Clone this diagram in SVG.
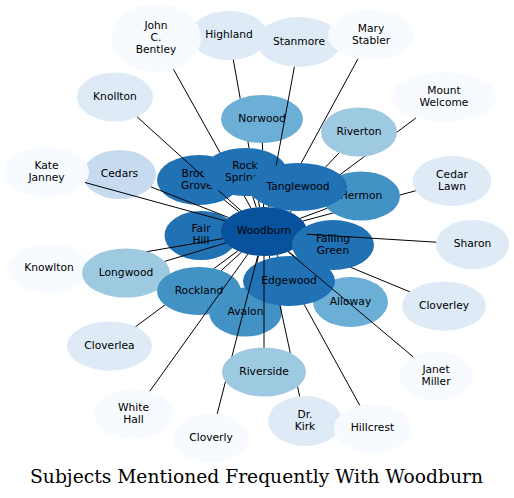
<svg xmlns="http://www.w3.org/2000/svg" width="514" height="498" viewBox="0 0 514 498">
<style>
text { font-family: "DejaVu Sans", "Liberation Sans", sans-serif; font-size: 10.7px; text-anchor: middle; fill: #000; }
.title { font-family: "DejaVu Serif", "Liberation Serif", serif; font-size: 18.7px; }
.c1 { fill: #f7fbff; } .c2 { fill: #deebf7; } .c3 { fill: #c6dbef; } .c4 { fill: #9ecae1; }
.c5 { fill: #6baed6; } .c6 { fill: #4292c6; } .c7 { fill: #2171b5; } .c8 { fill: #08519c; }
#edges line { stroke: #000; stroke-width: 1; fill: none; }
</style>
<defs>
<ellipse id="e-highland" cx="229" cy="35.5" rx="39" ry="24.5"/>
<ellipse id="e-jcb" cx="156" cy="38" rx="45" ry="34"/>
<ellipse id="e-brookgrove" cx="199" cy="180" rx="42" ry="25"/>
<ellipse id="e-knollton" cx="115" cy="97" rx="38" ry="24.5"/>
<ellipse id="e-norwood" cx="262" cy="119" rx="41" ry="24"/>
<ellipse id="e-rocksprings" cx="245" cy="172" rx="42" ry="24"/>
<ellipse id="e-stanmore" cx="299" cy="42" rx="42" ry="25"/>
<ellipse id="e-marystabler" cx="371" cy="35" rx="43" ry="25"/>
<ellipse id="e-cedarlawn" cx="452" cy="181" rx="39.5" ry="25"/>
<ellipse id="e-hermon" cx="361" cy="196" rx="39" ry="24.5"/>
<ellipse id="e-mountwelcome" cx="444" cy="97" rx="52" ry="25"/>
<ellipse id="e-riverton" cx="359" cy="132" rx="38" ry="24.5"/>
<ellipse id="e-tanglewood" cx="298" cy="187" rx="49" ry="24"/>
<ellipse id="e-fairhill" cx="201" cy="235.5" rx="36.5" ry="24.5"/>
<ellipse id="e-cedars" cx="119.5" cy="174.5" rx="36.5" ry="24.5"/>
<ellipse id="e-katejanney" cx="46.5" cy="172" rx="42.5" ry="25"/>
<ellipse id="e-woodburn" cx="264" cy="231.5" rx="43" ry="24.5"/>
<ellipse id="e-cloverley" cx="444" cy="306" rx="42" ry="24.5"/>
<ellipse id="e-fallinggreen" cx="333" cy="245" rx="41" ry="25"/>
<ellipse id="e-sharon" cx="472.5" cy="244.5" rx="36.5" ry="24.5"/>
<ellipse id="e-knowlton" cx="49" cy="268.5" rx="41" ry="24.5"/>
<ellipse id="e-longwood" cx="126" cy="273" rx="44" ry="24.5"/>
<ellipse id="e-cloverlea" cx="109.5" cy="346" rx="42.5" ry="24.5"/>
<ellipse id="e-rockland" cx="199" cy="291" rx="42" ry="24"/>
<ellipse id="e-avalon" cx="245.5" cy="312" rx="36.5" ry="24.5"/>
<ellipse id="e-whitehall" cx="133.5" cy="414" rx="39.5" ry="25"/>
<ellipse id="e-cloverly" cx="211" cy="438" rx="37.5" ry="24.5"/>
<ellipse id="e-alloway" cx="350.5" cy="302" rx="37.5" ry="25"/>
<ellipse id="e-drkirk" cx="305" cy="421" rx="37" ry="25"/>
<ellipse id="e-hillcrest" cx="372.5" cy="428.5" rx="38.5" ry="24.5"/>
<ellipse id="e-edgewood" cx="289" cy="281" rx="46" ry="25"/>
<ellipse id="e-janetmiller" cx="436" cy="376" rx="37" ry="24.5"/>
<ellipse id="e-riverside" cx="264" cy="372" rx="42" ry="24.5"/>

<mask id="m-highland" maskUnits="userSpaceOnUse" x="0" y="0" width="514" height="498"><rect width="514" height="498" fill="#fff"/><use href="#e-norwood"/><use href="#e-rocksprings"/><use href="#e-tanglewood"/></mask>
<mask id="m-jcb" maskUnits="userSpaceOnUse" x="0" y="0" width="514" height="498"><rect width="514" height="498" fill="#fff"/><use href="#e-brookgrove"/><use href="#e-rocksprings"/><use href="#e-tanglewood"/></mask>
<mask id="m-rs" maskUnits="userSpaceOnUse" x="0" y="0" width="514" height="498"><rect width="514" height="498" fill="#fff"/><use href="#e-rocksprings"/></mask>
<mask id="m-rs-tw" maskUnits="userSpaceOnUse" x="0" y="0" width="514" height="498"><rect width="514" height="498" fill="#fff"/><use href="#e-rocksprings"/><use href="#e-tanglewood"/></mask>
<mask id="m-tw" maskUnits="userSpaceOnUse" x="0" y="0" width="514" height="498"><rect width="514" height="498" fill="#fff"/><use href="#e-tanglewood"/></mask>
<mask id="m-rt-tw" maskUnits="userSpaceOnUse" x="0" y="0" width="514" height="498"><rect width="514" height="498" fill="#fff"/><use href="#e-riverton"/><use href="#e-tanglewood"/></mask>
<mask id="m-cedarlawn" maskUnits="userSpaceOnUse" x="0" y="0" width="514" height="498"><rect width="514" height="498" fill="#fff"/><use href="#e-hermon"/><use href="#e-tanglewood"/><use href="#e-fallinggreen"/></mask>
<mask id="m-tw-fg" maskUnits="userSpaceOnUse" x="0" y="0" width="514" height="498"><rect width="514" height="498" fill="#fff"/><use href="#e-tanglewood"/><use href="#e-fallinggreen"/></mask>
<mask id="m-fg" maskUnits="userSpaceOnUse" x="0" y="0" width="514" height="498"><rect width="514" height="498" fill="#fff"/><use href="#e-fallinggreen"/></mask>
<mask id="m-lw" maskUnits="userSpaceOnUse" x="0" y="0" width="514" height="498"><rect width="514" height="498" fill="#fff"/><use href="#e-longwood"/></mask>
<mask id="m-rl" maskUnits="userSpaceOnUse" x="0" y="0" width="514" height="498"><rect width="514" height="498" fill="#fff"/><use href="#e-rockland"/></mask>
<mask id="m-ew" maskUnits="userSpaceOnUse" x="0" y="0" width="514" height="498"><rect width="514" height="498" fill="#fff"/><use href="#e-edgewood"/></mask>
<mask id="m-rv" maskUnits="userSpaceOnUse" x="0" y="0" width="514" height="498"><rect width="514" height="498" fill="#fff"/><use href="#e-riverside"/></mask>
<mask id="m-ew-rv" maskUnits="userSpaceOnUse" x="0" y="0" width="514" height="498"><rect width="514" height="498" fill="#fff"/><use href="#e-edgewood"/><use href="#e-riverside"/></mask>
</defs>

<rect width="514" height="498" fill="#fff"/>

<g id="nodes">
<g id="node-highland"><use href="#e-highland" class="c2"/><text x="229" y="38.3">Highland</text></g>
<g id="node-john-c-bentley"><use href="#e-jcb" class="c1"/><text x="156" y="28.8">John</text><text x="156" y="40.8">C.</text><text x="156" y="52.8">Bentley</text></g>
<g id="node-brook-grove"><use href="#e-brookgrove" class="c7"/><text x="197" y="176.8">Brook</text><text x="197" y="188.8">Grove</text></g>
<g id="node-knollton"><use href="#e-knollton" class="c2"/><text x="115" y="99.8">Knollton</text></g>
<g id="node-norwood"><use href="#e-norwood" class="c5"/><text x="262" y="121.8">Norwood</text></g>
<g id="node-rock-springs"><use href="#e-rocksprings" class="c7"/><text x="245" y="168.8">Rock</text><text x="245" y="180.8">Springs</text></g>
<g id="node-stanmore"><use href="#e-stanmore" class="c2"/><text x="299" y="44.8">Stanmore</text></g>
<g id="node-mary-stabler"><use href="#e-marystabler" class="c1"/><text x="371" y="31.8">Mary</text><text x="371" y="43.8">Stabler</text></g>
<g id="node-cedar-lawn"><use href="#e-cedarlawn" class="c2"/><text x="452" y="177.8">Cedar</text><text x="452" y="189.8">Lawn</text></g>
<g id="node-hermon"><use href="#e-hermon" class="c6"/><text x="361" y="198.8">Hermon</text></g>
<g id="node-mount-welcome"><use href="#e-mountwelcome" class="c1"/><text x="444" y="93.8">Mount</text><text x="444" y="105.8">Welcome</text></g>
<g id="node-riverton"><use href="#e-riverton" class="c4"/><text x="359" y="134.8">Riverton</text></g>
<g id="node-tanglewood"><use href="#e-tanglewood" class="c7"/><text x="298" y="189.8">Tanglewood</text></g>
<g id="node-fair-hill"><use href="#e-fairhill" class="c7"/><text x="201" y="232.3">Fair</text><text x="201" y="244.3">Hill</text></g>
<g id="node-cedars"><use href="#e-cedars" class="c3"/><text x="119.5" y="177.3">Cedars</text></g>
<g id="node-kate-janney"><use href="#e-katejanney" class="c1"/><text x="46.5" y="168.8">Kate</text><text x="46.5" y="180.8">Janney</text></g>
<g id="node-woodburn"><use href="#e-woodburn" class="c8"/><text x="264" y="234.3">Woodburn</text></g>
<g id="node-cloverley"><use href="#e-cloverley" class="c2"/><text x="444" y="308.8">Cloverley</text></g>
<g id="node-falling-green"><use href="#e-fallinggreen" class="c7"/><text x="333" y="241.8">Falling</text><text x="333" y="253.8">Green</text></g>
<g id="node-sharon"><use href="#e-sharon" class="c2"/><text x="472.5" y="247.3">Sharon</text></g>
<g id="node-knowlton"><use href="#e-knowlton" class="c1"/><text x="49" y="271.3">Knowlton</text></g>
<g id="node-longwood"><use href="#e-longwood" class="c4"/><text x="126" y="275.8">Longwood</text></g>
<g id="node-cloverlea"><use href="#e-cloverlea" class="c2"/><text x="109.5" y="348.8">Cloverlea</text></g>
<g id="node-rockland"><use href="#e-rockland" class="c6"/><text x="199" y="293.8">Rockland</text></g>
<g id="node-avalon"><use href="#e-avalon" class="c6"/><text x="245.5" y="314.8">Avalon</text></g>
<g id="node-white-hall"><use href="#e-whitehall" class="c1"/><text x="133.5" y="410.8">White</text><text x="133.5" y="422.8">Hall</text></g>
<g id="node-cloverly"><use href="#e-cloverly" class="c1"/><text x="211" y="440.8">Cloverly</text></g>
<g id="node-alloway"><use href="#e-alloway" class="c5"/><text x="350.5" y="304.8">Alloway</text></g>
<g id="node-dr-kirk"><use href="#e-drkirk" class="c2"/><text x="305" y="417.8">Dr.</text><text x="305" y="429.8">Kirk</text></g>
<g id="node-hillcrest"><use href="#e-hillcrest" class="c1"/><text x="372.5" y="431.3">Hillcrest</text></g>
<g id="node-edgewood"><use href="#e-edgewood" class="c7"/><text x="289" y="283.8">Edgewood</text></g>
<g id="node-janet-miller"><use href="#e-janetmiller" class="c1"/><text x="436" y="372.8">Janet</text><text x="436" y="384.8">Miller</text></g>
<g id="node-riverside"><use href="#e-riverside" class="c4"/><text x="264" y="374.8">Riverside</text></g>
</g>

<g id="edges">
<line x1="233.3" y1="59.8" x2="259.6" y2="207.1" mask="url(#m-highland)"/>
<line x1="173.5" y1="69.3" x2="251" y2="208.1" mask="url(#m-jcb)"/>
<line x1="224.2" y1="200" x2="238.9" y2="211.6" mask="url(#m-rs)"/>
<line x1="137.1" y1="116.9" x2="241.05" y2="210.8" mask="url(#m-rs)"/>
<line x1="262.4" y1="143" x2="263.6" y2="207" mask="url(#m-rs-tw)"/>
<line x1="252.5" y1="195.6" x2="256.3" y2="207.4" mask="url(#m-tw)"/>
<line x1="294.4" y1="66.85" x2="268.5" y2="207.1" mask="url(#m-tw)"/>
<line x1="358" y1="58.8" x2="276.7" y2="208.1" mask="url(#m-rt-tw)"/>
<line x1="415.6" y1="190.8" x2="302.9" y2="221.05" mask="url(#m-cedarlawn)"/>
<line x1="327.3" y1="208.3" x2="300.2" y2="218.3" mask="url(#m-tw-fg)"/>
<line x1="415.9" y1="118" x2="290.1" y2="212" mask="url(#m-rt-tw)"/>
<line x1="339.1" y1="152.9" x2="284.55" y2="210" mask="url(#m-tw)"/>
<line x1="151" y1="186.9" x2="228.6" y2="217.55"/>
<line x1="85" y1="182.5" x2="225.2" y2="220.9"/>
<line x1="409.75" y1="291.8" x2="298.8" y2="245.9" mask="url(#m-fg)"/>
<line x1="436.2" y1="242.2" x2="306.7" y2="234.2"/>
<line x1="88.4" y1="261.7" x2="222.8" y2="238.6" mask="url(#m-lw)"/>
<line x1="164.7" y1="261.35" x2="226" y2="242.9"/>
<line x1="135.6" y1="326.7" x2="237.8" y2="250.9" mask="url(#m-rl)"/>
<line x1="221.2" y1="270.6" x2="241.3" y2="252.3"/>
<line x1="251.1" y1="287.8" x2="258.4" y2="255.8" mask="url(#m-ew)"/>
<line x1="149.8" y1="391.2" x2="247.8" y2="254.2"/>
<line x1="217.2" y1="413.8" x2="257.8" y2="255.7" mask="url(#m-rv)"/>
<line x1="326.8" y1="282.65" x2="288.6" y2="251.6" mask="url(#m-ew)"/>
<line x1="299.65" y1="396.3" x2="269.3" y2="255.8" mask="url(#m-ew-rv)"/>
<line x1="359.8" y1="405.4" x2="276.9" y2="254.9" mask="url(#m-ew)"/>
<line x1="413.1" y1="356.8" x2="288.1" y2="251.8"/>
<line x1="264" y1="347.5" x2="264" y2="256"/>
</g>

<text class="title" x="256.5" y="482.5">Subjects Mentioned Frequently With Woodburn</text>
</svg>
